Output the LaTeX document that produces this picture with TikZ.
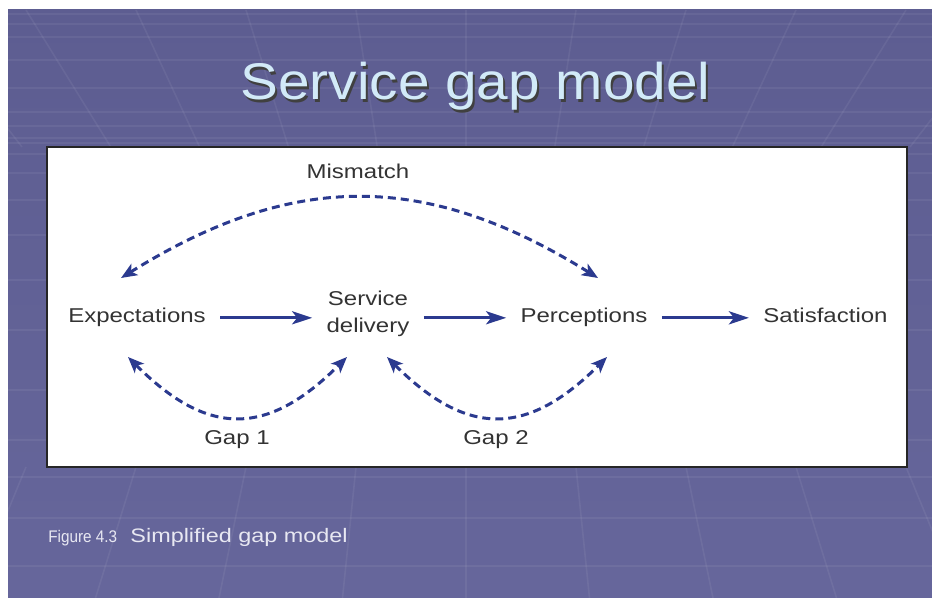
\documentclass[tikz,border=0pt]{standalone}
\usepackage{fontspec}
\setmainfont{Liberation Sans}
\usepackage{xcolor}
\usetikzlibrary{arrows.meta, positioning, calc}

\definecolor{slidebg}{HTML}{66669B}
\definecolor{slidetop}{HTML}{5D5D91}
\definecolor{arrowblue}{HTML}{2B3A8F}
\definecolor{titleblue}{HTML}{D2EAF8}
\definecolor{textgray}{HTML}{333333}
\definecolor{captiongray}{HTML}{E8E8F2}

\begin{document}
\begin{tikzpicture}[x=0.5pt, y=-0.5pt]
    % Block styles
    \tikzstyle{txt} = [text=textgray, font=\fontsize{10}{13.5}\selectfont, xscale=1.2, inner sep=0pt, align=center]
    \tikzstyle{flow} = [draw=arrowblue, line width=1.6pt, -{Stealth[length=10pt, width=6.5pt, inset=2.5pt]}, shorten <=7pt, shorten >=7pt]
    \tikzstyle{gaparc} = [draw=arrowblue, line width=1.5pt, dash pattern=on 4pt off 2.5pt, {Stealth[length=8pt, width=6.5pt, inset=2pt]}-{Stealth[length=8pt, width=6.5pt, inset=2pt]}]
    \tikzstyle{grid} = [white, opacity=0.06, line width=0.8pt]
    \useasboundingbox (0,0) rectangle (932,598);
    % Slide background
    \fill[white] (0,0) rectangle (932,598);
    \shade[top color=slidetop, bottom color=slidebg] (8,10) rectangle (932,598);
    \begin{scope}
        \clip (8,10) rectangle (932,598);
        \foreach \y in {14,24,37,60,88,112,126,138,143,154,173,200,235,280,330,390,440,477,518,566}
            \draw[grid] (8,\y) -- (932,\y);
        \foreach \k in {-6,...,6} {
            \draw[grid] (466+\k*110,10) -- (466+\k*88.8,147);
            \draw[grid] (466+\k*110,467) -- (466+\k*123.5,598);
        }
    \end{scope}
    % Title
    \node[font=\fontsize{25.8}{30}\selectfont, xscale=1.1, text=black!75, anchor=base] (titleshadow) at (477.5,102.5) {Service gap model};
    \node[font=\fontsize{25.8}{30}\selectfont, xscale=1.1, text=titleblue, anchor=base] (title) at (475.5,100) {Service gap model};
    % Figure panel
    \node[draw=black!85, fill=white, line width=0.8pt, minimum width=430pt, minimum height=160pt, inner sep=0pt] (panel) at (477,307) {};
    \node[txt, anchor=base] (mismatch) at (358,179) {Mismatch};
    \node[txt, anchor=base] (expect) at (137,323) {Expectations};
    \node[txt] (service) at (368,314) {Service\\delivery};
    \node[txt, anchor=base] (percept) at (584,323) {Perceptions};
    \node[txt, anchor=base] (satisf) at (825.5,323) {Satisfaction};
    \node[txt, anchor=base] (gapone) at (237,445) {Gap 1};
    \node[txt, anchor=base] (gaptwo) at (496,445) {Gap 2};
    % Arc ends
    \coordinate (mmL) at (121,278);
    \coordinate (mmR) at (598,278);
    \coordinate (g1L) at (128,357);
    \coordinate (g1R) at (347,357);
    \coordinate (g2L) at (387,357);
    \coordinate (g2R) at (607,357);
    % Connections
    \draw[flow] (expect) -- (expect -| service.west);
    \draw[flow] (service.east |- expect) -- (percept);
    \draw[flow] (percept) -- (percept -| satisf.west);
    \draw[gaparc] (mmL) .. controls (293,171) and (426,171) .. (mmR);
    \draw[gaparc] (g1L) .. controls (208,437) and (267,437) .. (g1R);
    \draw[gaparc] (g2L) .. controls (467,437) and (527,437) .. (g2R);
    % Caption
    \node[anchor=base west, font=\fontsize{8.4}{10}\selectfont, xscale=0.91, text=captiongray, inner sep=0pt] (fignum) at (48,543) {Figure 4.3};
    \node[anchor=base west, font=\fontsize{9.75}{12}\selectfont, xscale=1.2, text=captiongray, inner sep=0pt] (caption) at (130,543) {Simplified gap model};
\end{tikzpicture}
\end{document}
